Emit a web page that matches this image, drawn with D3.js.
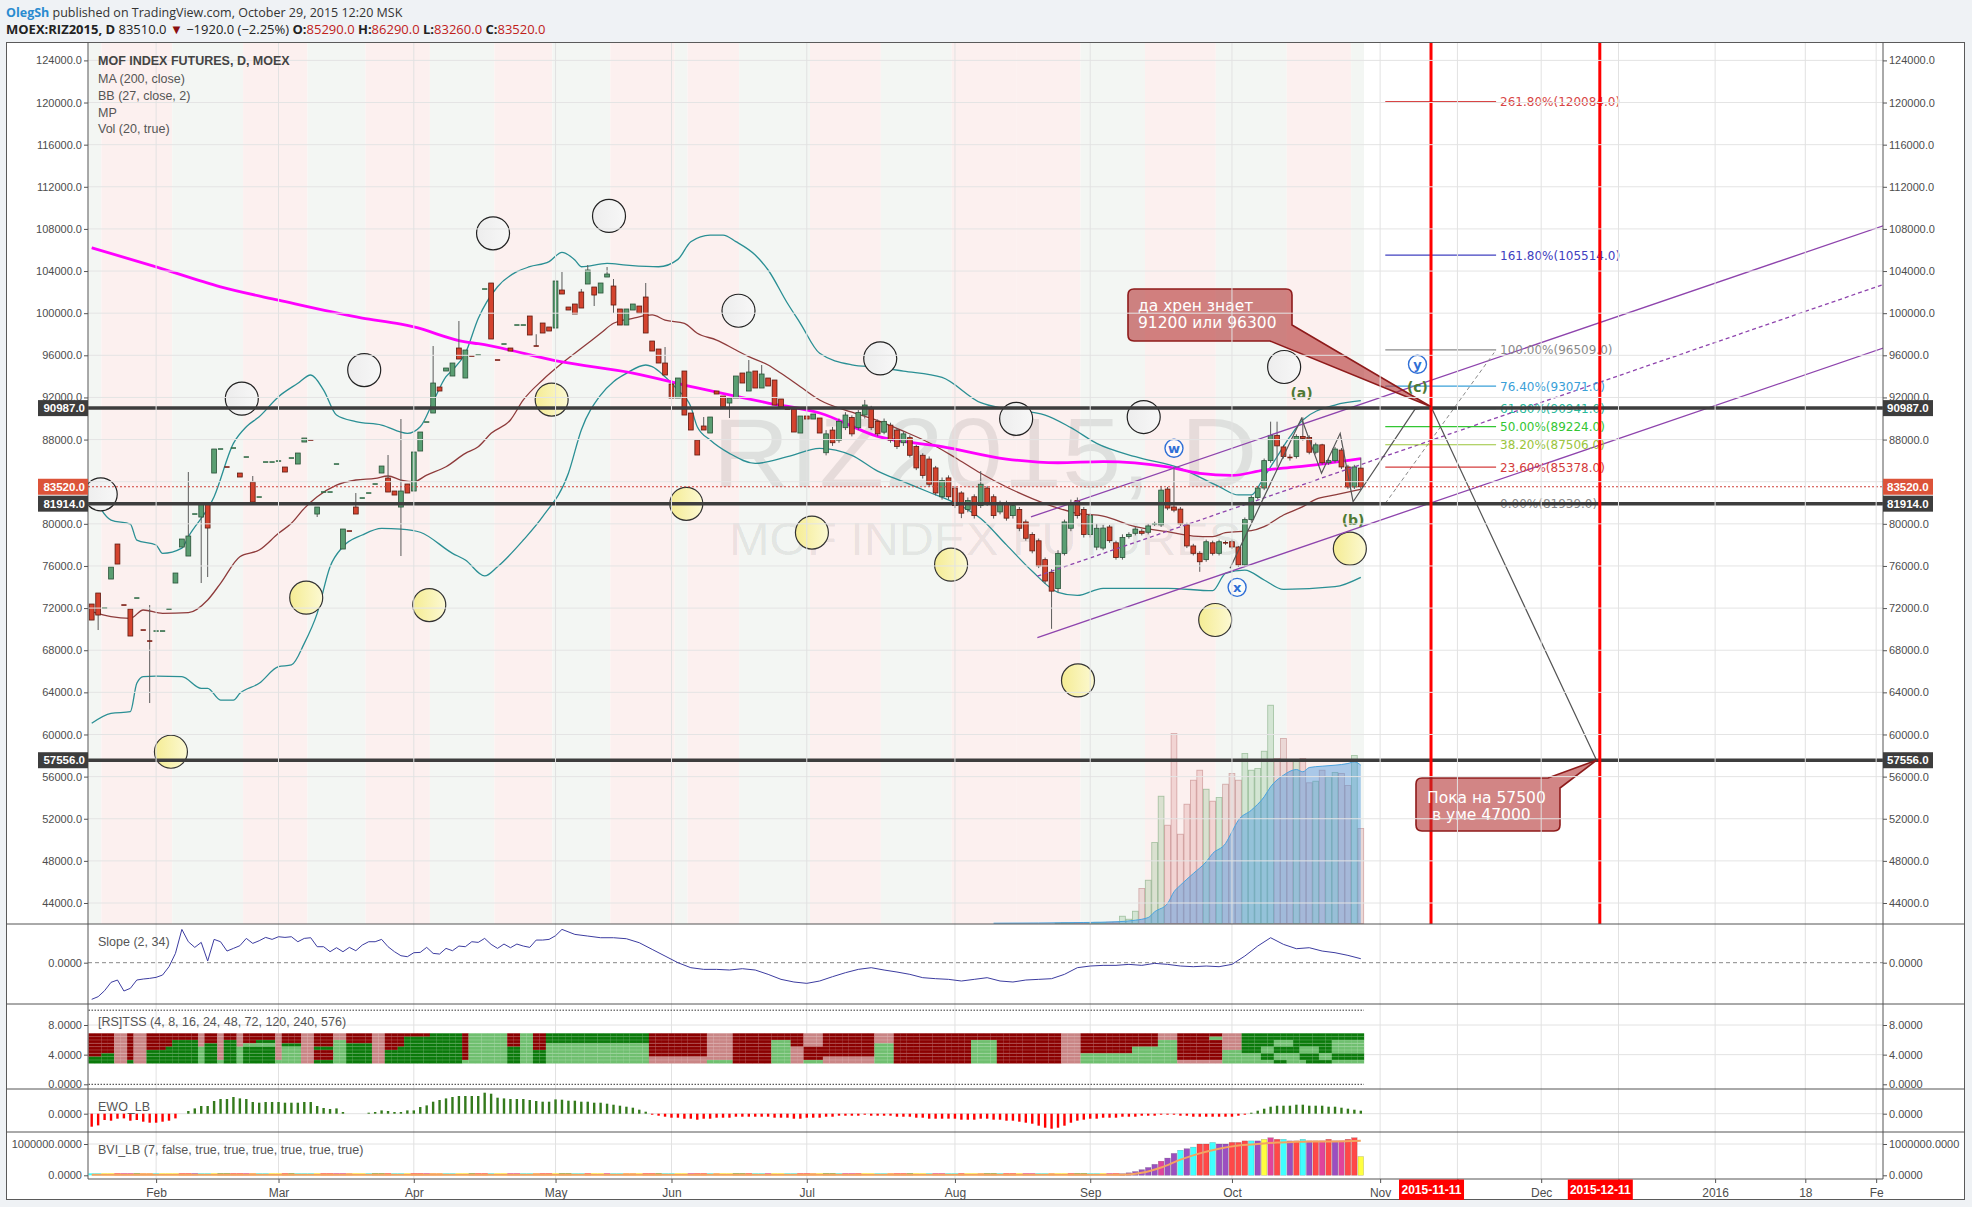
<!DOCTYPE html>
<html><head><meta charset="utf-8"><title>RIZ2015</title>
<script src="https://cdn.jsdelivr.net/npm/d3@7/dist/d3.min.js"></script>
<style>
html,body{margin:0;padding:0;background:#eff2f5;}
svg{display:block;}
.ax text{font-family:"Liberation Sans",Arial,sans-serif;font-size:11px;fill:#4d4d4d;}
.ax line{stroke:#555;}
.ax path{display:none;}
.tx text{font-family:"Liberation Sans",Arial,sans-serif;font-size:12px;fill:#4d4d4d;}
</style></head><body>
<svg id="chart" width="1972" height="1207"></svg>
<script>
// ---------------- DATA ----------------
const O=[
72385,73430,72005,74759,78082,72290,71910,72955,69917,68872,
69822,69822,71910,74380,77797,76943,80931,80646,81880,84823,
87103,85394,87198,84823,86343,83969,82545,85868,85868,85963,
85394,86248,85678,87767,87957,80931,83020,83020,85678,77608,
79316,81595,82450,82925,83780,84823,84349,83115,81595,83780,
83115,86913,89666,90521,92990,94509,94034,96692,93844,95933,
96028,102294,102864,95553,97072,96692,98876,98876,99731,96882,
99066,98687,98592,102199,100585,100870,102009,102769,102484,101914,
103433,102579,100396,98876,100300,100680,101535,97357,96597,95268,
93274,91945,94509,90521,87957,89287,88622,92610,92135,91470,
91945,94319,92610,94509,92895,93844,93654,91850,90901,90901,
88622,90236,89951,90046,86750,88900,87940,89130,90090,89130,
90330,90930,89730,88700,89370,88900,87700,88180,87340,86510,
86150,85310,82570,84360,83400,82930,81370,82570,81730,83400,
82570,81130,81970,80780,81370,80180,78980,78390,76600,75400,
73850,77190,79580,82210,81370,78980,77790,77700,79700,78200,
76800,78800,79100,79300,79200,80000,79900,83300,81600,81400,
79900,77900,77200,76600,78200,77200,78200,78300,77800,76100,
80400,82500,83400,86000,88400,87300,86300,86400,88300,88200,
86800,87500,85800,86000,87000,85400,83500,85290];
const HI=[
72385,73430,72005,75898,78082,72290,71910,72955,69917,72290,
69822,69822,71910,75329,78557,84919,80931,81880,81880,87103,
87103,85394,87198,84823,86343,84539,82545,85868,85868,85963,
85394,86248,86723,88147,87957,81595,83020,83020,85678,79506,
79316,82925,82450,82925,83780,85488,86533,83115,89951,83780,
86818,88717,89666,96882,92990,94794,95268,99256,96502,95933,
96028,102294,102864,95553,97072,96692,98876,98876,99731,98000,
99066,98687,103054,103909,100585,100870,102300,104573,102484,102864,
104383,103244,100396,100396,100870,100680,102864,97357,96597,96787,
93274,93844,94509,90521,87957,90141,90141,92610,92135,91945,
94034,94319,95553,94509,95078,93844,93654,91850,90901,90901,
90236,90236,90426,90046,88900,89200,90000,90600,90300,90800,
91760,91200,89900,90000,89600,89100,88800,88400,87500,86700,
86400,85500,84400,84600,83600,83100,82500,82800,85000,83600,
82800,82200,82200,82000,81600,80400,79200,78600,76800,75700,
77500,80400,82300,82500,81600,81000,80000,79900,79900,78400,
79000,79200,79700,79500,80000,80200,83600,83500,85365,81600,
80100,78100,77400,78500,78400,78500,78400,78500,77900,80600,
82700,83600,86200,89700,89700,87500,86600,88500,90110,88400,
87700,87600,86200,87300,87200,85600,85600,86290];
const LO=[
70866,69917,72005,74759,76183,72290,69347,72955,69917,62987,
69822,69822,71910,74380,77797,76943,80931,74380,74949,84823,
87103,85394,87198,84444,86343,82070,82545,85868,85868,85963,
84919,86248,85678,87767,87957,80646,83020,83020,85678,77608,
79316,80931,82450,82925,83780,84823,83020,82735,76943,82925,
83115,86913,89666,90521,92610,94509,94034,95648,93844,95933,
96028,102294,97548,95553,97072,96407,98876,98876,97927,96882,
98117,98307,98592,101819,100300,99921,100490,102769,100680,101914,
103433,100015,98876,98876,100300,100015,98117,96407,95268,94129,
91945,91945,90331,88907,86533,88907,88622,92325,91090,90046,
91945,93370,92610,92895,92895,93085,91280,91090,90901,88717,
88622,89951,89951,88622,86500,87400,87700,88900,88300,88900,
90000,88900,88300,88500,87700,87100,87400,86300,85100,84300,
83500,82700,82300,82300,81500,80540,81100,80500,81500,81700,
80500,80900,80300,80500,79300,78400,77200,75800,74300,70030,
73500,77000,79300,80500,78700,78700,77500,77500,78200,76600,
76600,78600,78900,78900,79000,79800,79700,81300,81100,79800,
77700,77000,75445,76400,77000,77000,78000,77600,75900,76000,
80200,82300,83200,85800,85420,86200,86000,86200,87900,86600,
86600,85600,85600,85800,85200,83300,83300,83260];
const C=[
70866,71341,72005,75898,76183,72290,69347,72955,69917,68872,
69822,69822,71910,75329,78557,78842,80931,81880,79601,87103,
87103,85394,87198,84444,86343,82070,82545,85868,85868,85963,
84919,86248,86723,88147,87957,81595,83020,83020,85678,79506,
79316,80931,82450,82925,83780,85488,83020,82735,83115,82925,
86818,88717,89666,93369,92610,94794,95268,95648,96502,95933,
96028,102294,97548,95553,97072,96407,98876,98876,97927,96882,
98117,98307,103054,101819,100300,99921,100490,104098,101724,102864,
103718,100775,98876,100396,100870,100015,98117,96407,95268,94129,
91945,93844,90331,88907,86533,88907,90141,92325,91090,91945,
94034,93370,94414,92895,94224,93085,91280,91090,90901,88717,
90236,89951,90426,88622,88540,87700,89730,90330,88540,90570,
91280,89130,88540,89730,87940,87340,88540,86510,85310,84600,
83760,82930,84120,82570,81730,81010,82210,80780,83760,81970,
80780,81970,80540,81730,79580,78630,77430,76000,74570,73610,
77190,80180,81970,80780,78980,80780,79580,79600,78400,76800,
78700,79000,79500,79100,79800,80000,83200,81500,81300,80000,
77900,77200,76400,78300,77200,78300,78200,77800,76100,80400,
82500,83400,86000,88400,87400,86400,86300,88300,88100,86800,
87500,85800,86000,87100,85400,83500,85400,83520];

// volume (from bar 150)
const volStart=150;
const volVals=[500,800,600,900,700,1000,1200,900,1300,1500,
7300,4300,12300,35000,43300,81000,127300,98300,190000,89300,
119300,143300,153300,134300,122300,126000,139300,150000,143300,170000,
153300,155000,172300,218300,165000,185000,163300,163300,165000,140700,
142300,153300,146700,151000,150000,138000,168000,95000];
const volMaIdx=[140,154,159,162,164,165,167,168,169,171,173,174,176,177,178,180,182,183,185,187,188,189,191,193,195,196,197];
const volMaVal=[300,1000,1700,3300,6000,11700,20000,31700,38300,50000,61700,70000,80000,91700,103300,113300,126700,136700,148300,154000,151700,156000,157300,158300,160000,161700,158300];

// Bollinger bands (27,2) read points
const bbUpIdx=[0,3,6,7,10,11,14,15,19,22,24,26,29,32,34,36,38,41,45,49,51,53,55,56,58,60,63,66,68,71,73,75,76,80,83,88,91,93,96,98,100,103,105,108,110,113,118,122,126,132,138,142,148,152,156,162,169,175,178,180,182,184,186,188,193,197];
const bbUpVal=[83050,80360,79980,78460,77990,77200,77700,78780,82570,87640,89220,90170,92070,93340,94130,92700,90330,89700,89380,88590,89220,91600,93970,94600,96190,99500,102510,103940,104410,104890,105780,105050,104410,104730,104570,104410,105110,106790,107420,107420,106790,105520,104100,100940,99040,96190,95100,94860,94500,93900,91500,90900,90330,89130,87640,86370,85270,83530,82740,82740,84470,86370,88270,89860,91280,91690];
const bbLoIdx=[0,3,6,7,8,10,14,17,18,20,22,23,26,29,31,33,35,37,39,42,45,48,51,56,58,61,63,67,70,74,76,79,81,83,86,87,89,91,93,94,96,99,103,108,113,118,122,126,130,134,138,142,146,150,153,157,167,174,176,179,182,185,193,197];
const bbLoVal=[61060,62000,62160,64860,65490,65550,65490,64380,64380,63270,63270,63910,64860,66440,66600,68650,71500,75930,77830,78940,79570,79500,79200,77200,76560,75050,75930,78460,80680,84800,88910,92230,93500,94290,95080,94920,93970,92700,91120,89220,87960,86690,85740,86370,87170,86500,85000,84000,83000,82000,80500,78000,75500,73500,73200,73880,73880,73650,75300,75610,74670,73780,74030,74920];
const bbMidIdx=[0,3,6,8,11,15,18,20,23,26,29,31,33,35,38,41,44,46,48,50,52,55,58,60,62,65,67,70,73,76,79,81,84,87,89,92,94,97,100,102,105,107,110,113,118,122,126,130,134,138,142,146,150,153,157,162,167,171,174,176,180,182,185,188,190,193,197];
const bbMidVal=[71660,71180,71030,71820,71500,71560,72770,74350,76880,77510,79100,80050,81470,82570,83680,84160,84320,84540,84160,84000,84630,85420,86690,87320,88590,89860,91760,93660,95240,96660,98090,99040,99510,99830,99350,99040,98090,97450,96500,95870,95080,94290,93020,91760,90600,89800,88800,87700,86300,84800,83500,82400,81500,81000,80740,79730,79250,78840,78780,79160,79350,79730,80840,81630,82330,82740,83280];
// MA(200)
const maIdx=[0,10,20,29,42,48,50,58,60,73,84,94,105,113,122,132,142,150,157,167,172,177,182,187,197];
const maVal=[106210,104400,102500,101230,99540,98960,98690,97270,97100,95370,94320,92900,91470,90520,88300,87340,86150,85800,85900,85400,84800,84600,85100,85400,86200];

// background session bands (bar index edges) p = pink, g = green
const bandEdge=[-0.5,1.5,12.5,23.5,33.5,42.5,52.5,62.5,71.5,80.5,90.5,92.5,100.5,111.5,122.5,133.5,143.5,153.5,163.5,174.5,185.5,195.5,197.5];
const bandType=['g','p','g','p','g','p','g','p','g','p','g','p','g','p','g','p','p','g','p','g','p','g'];

// marker circles (bar index, price)
const whiteIdx=[1.4,23.3,42.3,62.3,80.3,100.4,122.4,143.5,163.3,185.1];
const whiteVal=[82800,91880,94600,107580,109230,100230,95700,89970,90140,94890];
const yellowIdx=[12.3,33.3,52.4,71.4,92.3,111.8,133.4,153.1,174.4,195.3];
const yellowVal=[58360,72990,72290,91800,81900,79170,76120,65130,70870,77640];

// horizontal levels
const levels=[90987,81914,57556];
const lastPrice=83520;

// channel (bar index, price)
const chanUp=[[145.8,80650],[278.1,108300]];
const chanMid=[[146.8,75040],[278.1,102720]];
const chanLo=[[146.8,69200],[278.1,96690]];

// fibonacci
const fibPct=['261.80%','161.80%','100.00%','76.40%','61.80%','50.00%','38.20%','23.60%','0.00%'];
const fibVal=[120084,105514,96509,93071,90941,89224,87506,85378,81939];
const fibCol=['#d84545','#4040c0','#8a8a8a','#3aa0d8','#2ab89a','#33c633','#9ac43a','#d43c3c','#8a8a8a'];
const fibRange=[200.8,218];
const fibDiag=[[200.8,81939],[218,96509]];

// wave path
const zigIdx=[176.7,187.8,190.9,193.8,195.8,205.4,207.9,233.6];
const zigVal=[75775,90020,84800,88590,82100,90870,91119,57556];

// wave labels
const waveTxt=['w','x','y','(a)','(b)','(c)'];
const waveIdx=[168.0,177.8,205.8,187.8,195.8,205.8];
const waveVal=[87170,73970,95145,92420,80360,93020];
const waveCircled=[true,true,true,false,false,false];

// vertical event lines
const eventIdx=[207.9,234.1];
const eventLab=['2015-11-11','2015-12-11'];

// callouts
const callA=['да хрен знает','91200 или 96300'];
const callB=['Пока на 57500',' в уме 47000'];

// time axis
const tIdx=[10,29,50,72,90,111,134,155,177,200,212,225,237,252,266,277];
const tLab=['Feb','Mar','Apr','May','Jun','Jul','Aug','Sep','Oct','Nov','','Dec','','2016','18','Fe'];

// price ticks
const priceTicks=d3.range(44000,124001,4000);

// Slope (2,34)
const slopeIdx=d3.range(0,73).concat([73,75,77,79,81,83,85,87,89,91,93,95,97,99,101,103,105,107,109,111,113,115,117,119,121,123,125,127,129,131,133,135,137,139,141,143,145,147,149,151,153,155,157,159,161,163,165,167,169,171,173,175,177,179,181,183,185,187,189,191,193,195,197]);
const slopeVal=[-1.10,-1.02,-0.84,-0.59,-0.52,-0.85,-0.77,-0.52,-0.49,-0.47,-0.44,-0.37,-0.12,0.28,1.00,0.63,0.46,0.61,0.05,0.70,0.63,0.35,0.43,0.51,0.73,0.58,0.66,0.76,0.70,0.78,0.76,0.78,0.63,0.73,0.75,0.48,0.48,0.33,0.45,0.33,0.46,0.36,0.53,0.63,0.63,0.70,0.48,0.33,0.21,0.18,0.30,0.31,0.46,0.28,0.26,0.43,0.36,0.50,0.48,0.63,0.61,0.73,0.55,0.43,0.56,0.45,0.56,0.50,0.46,0.68,0.68,0.70,0.81,
1.0,0.85,0.8,0.75,0.75,0.72,0.6,0.4,0.2,0.0,-0.15,-0.2,-0.2,-0.22,-0.18,-0.22,-0.35,-0.5,-0.58,-0.62,-0.55,-0.42,-0.3,-0.2,-0.15,-0.22,-0.28,-0.35,-0.45,-0.48,-0.5,-0.55,-0.5,-0.45,-0.55,-0.58,-0.52,-0.5,-0.48,-0.35,-0.15,-0.1,-0.08,-0.08,-0.05,-0.08,-0.02,-0.05,-0.1,-0.12,-0.1,-0.12,-0.05,0.2,0.5,0.75,0.55,0.42,0.45,0.35,0.3,0.22,0.12];

// [RS]TSS rows (run-length: R dark red, r light red, G dark green, g light green)
const tssRows=[
"R4r2R1r2R8r1R2r1R2r1R5r1R3r2R3r2R4r2R7G5R1g6R2g2R2G16R9r4R11r3R8r3R26r3R12r3R7r3G19",
"R4r2R1r2R8r1R2r1R2r1R5r1R3r2R3r2R4r2R3G9R1g6R2g2R2G16R9r4R11r3R8r3R26r3R12r3R5g2r3G19",
"R4r2R1r2R4G4r1R2r1G2r1R2G3r1R3r2R3g2R4r2R3G9R1g6R2g2R2G16R9r4R6g3R2r3R8r3R12g4R10r3R12g3R7r3G5g3G6g5",
"R4r2R1r2R4G4r1G2r1G2r1g5r1G3r2R3g2G4r2R3G9R1g6R2g2R2g16R9r4R6g3R2r3R8g3R12g4R10r3R12g3R7r3G5g3G6g5",
"R4r2R1r2R3G5g1G2r1G2g1G5r1g3r2G3g2G4r2R2G10R1g6G2g2R2g16R9r4R6g3r2R3R8g3R12g4R10r3R8g7R7r3G3g2G4g3G2g5",
"R4r2R1r2G8g1G2r1G2g1G5r1g3r2R3g2G4r2G12R1g6G2g2G2g16R9r4R6g3r2R3R8g3R12g4R10r3R8g7R7g3G3g2G4g3G2g5",
"R2G2r2R1r2G8g1G2r1G2g1G5r1g3r2R3g2G4r2G12R1g6G2g2G2g16R9r4R6g3r2R3R8g3R12g4R10r3g8g7R7g3g3G2g4G3g2G5",
"G4r2R1r2G8g1G2r1G2g1G5r1g3r2R3g2G4r2G12R1g6G2g2G2g16r9r4R6g3r2R3r8g3R12g4R10r3g8g7R7g3g3G2g4G3g2G5",
"G4r2G1r2G8g1G2g1G2g1G5g1g3r2G3g2G4r2G12g1g6G2g2G2g16r9g4R6g3r2g3r8g3R12g4R10r3g8g7r7g3g5G2g3G4g5"];

// EWO_LB histogram (px units)
const ewoVal=[-13,-11.7,-6.3,-7,-5,-4.7,-7,-6.3,-8,-9,-9,-8,-7,-4.7,0,
2.7,5.3,7.7,7.7,12.7,14.7,14.7,16.7,15.3,14.7,11.7,11,11.7,11.7,11.7,11,11,11,11.7,11.7,7.7,5.7,4.7,5.3,1.7,
0,0,0,
1,1.7,3.3,2.7,1.7,1.7,3.3,3.3,6.7,8.3,12,13.7,15.3,16.7,17.7,17.7,17.7,17.7,21,20,16,15.3,14.7,14.7,14.7,13.7,12.7,12,12,14.3,
14,13,13,12,12,11,11,10,9,8,7,6,4,2,-1,-2,-3,-4,-4,-5,-5,-6,-5,-5,-4,-4,-4,-3,-3,-3,-3,-3,-3,-4,-4,-4,-5,-5,-4,-4,-4,
-3,-3,-2,-2,-2,-2,-1,-2,-2,-2,-2,-3,-3,-3,-4,-4,-5,-5,-5,-5,-5,-6,-6,-6,-5,-5,-6,-6,-7,-7,-8,-9,-10,-12,-14,-15,
-14,-12,-9,-7,-6,-5,-5,-4,-4,-4,-3,-3,-3,-2,-2,-2,-1,-1,-1,-2,-2,-3,-3,-3,-3,-3,-3,-3,-2,-1,1,3,5,7,8,8,8,9,9,8,8,8,7,7,6,5,4,3];

// BVI_LB (values in millions)
const bviBaseCols="c2y2R1m2g1o2c1y3R2p1c2y1g2R2m1o1c2y2R1g1c3y1R2m2o1y2c1g2R1c2y1R2m1o2c2y2g1R2c1y2m2c2o1R2y1g2c2R1y2m1c2o2y1R2g1c2y2m1R2c1o1y2g2R1c2m1y2c2R2o1y1g2c1m2R1y2c2o1R2g1y2c1m2c2R1y2o1g2c1R2y1m2c2o1y2R1g2c2y1m1R2c1o2y1";
const bviStart=160;
const bviVals=[0.05,0.08,0.12,0.18,0.25,0.35,0.45,0.55,0.7,0.8,0.85,0.9,1.0,1.0,1.05,1.0,1.0,1.05,1.05,1.1,1.1,1.1,1.15,1.2,1.15,1.15,1.1,1.1,1.15,1.1,1.1,1.1,1.15,1.1,1.1,1.15,1.2,0.6];
const bviCols="ppppppmppcpcRRcppRRRcpymRcpRcpRmRpmRRy";
const bviAvgIdx=[0,160,163,166,169,172,175,178,181,184,187,190,193,197];
const bviAvgVal=[0.02,0.02,0.08,0.25,0.5,0.7,0.85,0.95,1.0,1.05,1.07,1.08,1.08,1.1];

// ---------------- LAYOUT ----------------
const N=O.length;
const AX0=88, AX1=1883;
const P={main:[43,924],slope:[924,1004],tss:[1004,1089],ewo:[1089,1132],bvi:[1132,1179]};
const x=d3.scaleLinear().domain([0,197]).range([91.7,1360.8]);
const yM=d3.scaleLinear().domain([44000,124000]).range([903,60.4]);
const ySl=d3.scaleLinear().domain([-1,1]).range([996,929.4]);
const yTs=d3.scaleLinear().domain([0,8]).range([1084.3,1025]);
const yEw=d3.scaleLinear().domain([-20,20]).range([1133.7,1093.7]);
const yBv=d3.scaleLinear().domain([0,1]).range([1175.3,1144]);
const yVol=d3.scaleLinear().domain([0,250000]).range([923.5,673.5]);

function rle(s,n){const out=[];s.replace(/([A-Za-z])(\d+)/g,(m,c,k)=>{for(let j=0;j<+k;j++)out.push(c);});while(out.length<n)out.push(out[out.length-1]);return out.slice(0,n);}

const svg=d3.select('#chart');
const defs=svg.append('defs');
function clip(id,y0,y1){defs.append('clipPath').attr('id',id).append('rect').attr('x',AX0).attr('y',y0).attr('width',AX1-AX0).attr('height',y1-y0);}
clip('cMain',P.main[0],P.main[1]);clip('cSlope',P.slope[0],P.slope[1]);clip('cTss',P.tss[0],P.tss[1]);clip('cEwo',P.ewo[0],P.ewo[1]);clip('cBvi',P.bvi[0],P.bvi[1]);
const yg=defs.append('linearGradient').attr('id','yel').attr('x1',0).attr('x2',1).attr('y1',0).attr('y2',0);
yg.append('stop').attr('offset','0%').attr('stop-color','#f5ec94');yg.append('stop').attr('offset','100%').attr('stop-color','#fcf9d2');
const wg=defs.append('linearGradient').attr('id','wht').attr('x1',0).attr('x2',1).attr('y1',0).attr('y2',0);
wg.append('stop').attr('offset','0%').attr('stop-color','#ededed');wg.append('stop').attr('offset','100%').attr('stop-color','#f7f7f7');

// page / frame
svg.append('rect').attr('x',0).attr('y',0).attr('width',1972).attr('height',1207).attr('fill','#eff2f5');
svg.append('rect').attr('x',6.5).attr('y',42.5).attr('width',1958).attr('height',1157).attr('fill','#fff').attr('stroke','#5a5a5a');

// header
const h1=svg.append('text').attr('x',6).attr('y',17).style('font-family','"Open Sans","Liberation Sans",sans-serif').style('font-size','12.5px').attr('fill','#333');
h1.append('tspan').attr('fill','#2a8bd0').attr('font-weight','bold').text('OlegSh');
h1.append('tspan').text(' published on TradingView.com, October 29, 2015 12:20 MSK');
const h2=svg.append('text').attr('x',6).attr('y',34).style('font-family','"Open Sans","Liberation Sans",sans-serif').style('font-size','13px').attr('fill','#222');
h2.append('tspan').attr('font-weight','bold').text('MOEX:RIZ2015, D');
h2.append('tspan').text('  83510.0 ');
h2.append('tspan').attr('fill','#8b1010').text('▼');
h2.append('tspan').text(' −1920.0 (−2.25%)  ');
[['O:','85290.0'],['H:','86290.0'],['L:','83260.0'],['C:','83520.0']].forEach(([k,v])=>{h2.append('tspan').attr('font-weight','bold').text(k);h2.append('tspan').attr('fill','#c0201a').text(v+'  ');});

// ---------- MAIN PANE ----------
const gm=svg.append('g').attr('clip-path','url(#cMain)');
const bands=bandType.map((t,k)=>({t,a:bandEdge[k],b:bandEdge[k+1]}));
gm.selectAll('rect.band').data(bands).join('rect').attr('x',d=>x(d.a)).attr('width',d=>x(d.b)-x(d.a))
  .attr('y',P.main[0]).attr('height',P.main[1]-P.main[0]).attr('fill',d=>d.t==='p'?'#fcf0ef':'#f3f6f3');
const gridG=svg.append('g');
gridG.selectAll('line.hg').data(priceTicks).join('line').attr('x1',AX0).attr('x2',AX1).attr('y1',d=>yM(d)).attr('y2',d=>yM(d)).attr('stroke','#e4e4e4');
gridG.selectAll('line.vg').data(tIdx).join('line').attr('x1',d=>x(d)).attr('x2',d=>x(d)).attr('y1',P.main[0]).attr('y2',P.bvi[1]).attr('stroke','#e2e2e2');
gm.append('text').attr('x',985).attr('y',487).attr('text-anchor','middle').attr('textLength',545).attr('lengthAdjust','spacingAndGlyphs')
  .style('font-family','"Liberation Sans",Arial,sans-serif').style('font-size','98px').attr('fill','rgba(0,0,0,0.085)').text('RIZ2015, D');
gm.append('text').attr('x',985).attr('y',555).attr('text-anchor','middle').attr('textLength',512).attr('lengthAdjust','spacingAndGlyphs')
  .style('font-family','"Liberation Sans",Arial,sans-serif').style('font-size','46px').attr('fill','rgba(0,0,0,0.085)').text('MOF INDEX FUTURES');
const vols=volVals.map((v,k)=>{const i=volStart+k;const up=C[i]>O[i]||(C[i]===O[i]&&i>0&&C[i]>=C[i-1]);return {i,v,up};});
gm.selectAll('rect.vol').data(vols).join('rect').attr('x',d=>x(d.i)-2.9).attr('width',5.8)
  .attr('y',d=>yVol(d.v)).attr('height',d=>yVol(0)-yVol(d.v))
  .attr('fill',d=>d.up?'rgba(130,185,130,0.28)':'rgba(215,140,140,0.28)')
  .attr('stroke',d=>d.up?'rgba(80,140,80,0.45)':'rgba(170,90,90,0.45)').attr('stroke-width',0.8);
const vma=volMaIdx.map((i,k)=>[i,volMaVal[k]]);
gm.append('path').datum(vma).attr('d',d3.area().x(d=>x(d[0])).y0(yVol(0)).y1(d=>yVol(d[1])).curve(d3.curveMonotoneX))
  .attr('fill','rgba(70,150,225,0.45)');
gm.append('path').datum(vma).attr('d',d3.line().x(d=>x(d[0])).y(d=>yVol(d[1])).curve(d3.curveMonotoneX))
  .attr('fill','none').attr('stroke','#4aa3df').attr('stroke-width',1);
const ln=d3.line().x(d=>x(d[0])).y(d=>yM(d[1])).curve(d3.curveMonotoneX);
[[bbUpIdx,bbUpVal,'#2a8f94'],[bbLoIdx,bbLoVal,'#2a8f94'],[bbMidIdx,bbMidVal,'#8e3b3b']].forEach(([ix,vv,col])=>{
  gm.append('path').datum(ix.map((i,k)=>[i,vv[k]])).attr('d',ln).attr('fill','none').attr('stroke',col).attr('stroke-width',1.3);});
gm.append('path').datum(maIdx.map((i,k)=>[i,maVal[k]])).attr('d',ln).attr('fill','none').attr('stroke','#ff00ff').attr('stroke-width',2.8);
const bars=d3.range(N).map(i=>({i,o:O[i],h:HI[i],l:LO[i],c:C[i],up:C[i]>O[i]||(C[i]===O[i]&&(i===0||C[i]>=C[i-1]))}));
gm.selectAll('line.wick').data(bars.filter(d=>d.h>d.l)).join('line').attr('x1',d=>x(d.i)).attr('x2',d=>x(d.i))
  .attr('y1',d=>yM(d.h)).attr('y2',d=>yM(d.l)).attr('stroke','#5b5b5b').attr('stroke-width',1);
gm.selectAll('rect.body').data(bars.filter(d=>d.o!==d.c)).join('rect').attr('x',d=>x(d.i)-2.4).attr('width',4.8)
  .attr('y',d=>yM(Math.max(d.o,d.c))).attr('height',d=>Math.max(1.5,Math.abs(yM(d.o)-yM(d.c))))
  .attr('fill',d=>d.up?'#5a9e72':'#d4432e').attr('stroke',d=>d.up?'#2a5238':'#5e1a10').attr('stroke-width',0.8);
gm.selectAll('line.dash').data(bars.filter(d=>d.o===d.c)).join('line').attr('x1',d=>x(d.i)-2.6).attr('x2',d=>x(d.i)+2.6)
  .attr('y1',d=>yM(d.c)).attr('y2',d=>yM(d.c)).attr('stroke',d=>d.up?'#2f6b46':'#7a1a10').attr('stroke-width',1.6);
gm.selectAll('circle.w').data(whiteIdx.map((i,k)=>[i,whiteVal[k]])).join('circle').attr('cx',d=>x(d[0])).attr('cy',d=>yM(d[1])).attr('r',16.5)
  .attr('fill','url(#wht)').attr('stroke','#222').attr('stroke-width',1.2);
gm.selectAll('circle.y').data(yellowIdx.map((i,k)=>[i,yellowVal[k]])).join('circle').attr('cx',d=>x(d[0])).attr('cy',d=>yM(d[1])).attr('r',16.5)
  .attr('fill','url(#yel)').attr('stroke','#333').attr('stroke-width',1.2);
[[chanUp,null],[chanMid,'4,3'],[chanLo,null]].forEach(([pts,dash])=>{
  gm.append('line').attr('x1',x(pts[0][0])).attr('y1',yM(pts[0][1])).attr('x2',x(pts[1][0])).attr('y2',yM(pts[1][1]))
   .attr('stroke','#8e44ad').attr('stroke-width',1.3).attr('stroke-dasharray',dash);});
gm.append('line').attr('x1',x(fibDiag[0][0])).attr('y1',yM(fibDiag[0][1])).attr('x2',x(fibDiag[1][0])).attr('y2',yM(fibDiag[1][1]))
  .attr('stroke','#8a8a8a').attr('stroke-width',1).attr('stroke-dasharray','4,3');
fibVal.forEach((v,k)=>{
  gm.append('line').attr('x1',x(fibRange[0])).attr('x2',x(fibRange[1])).attr('y1',yM(v)).attr('y2',yM(v)).attr('stroke',fibCol[k]).attr('stroke-width',1.2);
  gm.append('text').attr('x',x(fibRange[1])+4).attr('y',yM(v)+4.5).style('font-family','"DejaVu Sans",Verdana,sans-serif').style('font-size','12px')
   .attr('fill',fibCol[k]).text(fibPct[k]+'('+v.toFixed(1)+')');});
gm.append('path').datum(zigIdx.map((i,k)=>[i,zigVal[k]])).attr('d',d3.line().x(d=>x(d[0])).y(d=>yM(d[1])))
  .attr('fill','none').attr('stroke','#555').attr('stroke-width',1.2);
levels.forEach(v=>gm.append('line').attr('x1',AX0).attr('x2',AX1).attr('y1',yM(v)).attr('y2',yM(v)).attr('stroke','#3d3d3d').attr('stroke-width',3.5));
gm.append('line').attr('x1',AX0).attr('x2',AX1).attr('y1',yM(lastPrice)).attr('y2',yM(lastPrice)).attr('stroke','#d0413a').attr('stroke-width',1).attr('stroke-dasharray','2,2');
eventIdx.forEach(i=>gm.append('line').attr('x1',x(i)).attr('x2',x(i)).attr('y1',P.main[0]).attr('y2',P.main[1]).attr('stroke','#ff0000').attr('stroke-width',3));
function callout(box,tip,wedge,lines,tx,ty){
  const [x0,y0,x1,y1]=box,r=6;let d;
  if(wedge==='br'){
    d=`M${x0+r},${y0}L${x1-r},${y0}Q${x1},${y0} ${x1},${y0+r}L${x1},${y1-16}L${tip[0]},${tip[1]}L${x1-22},${y1}L${x0+r},${y1}Q${x0},${y1} ${x0},${y1-r}L${x0},${y0+r}Q${x0},${y0} ${x0+r},${y0}Z`;
  }else{
    d=`M${x0+r},${y0}L${x1-12},${y0}L${tip[0]},${tip[1]}L${x1},${y0+10}L${x1},${y1-r}Q${x1},${y1} ${x1-r},${y1}L${x0+r},${y1}Q${x0},${y1} ${x0},${y1-r}L${x0},${y0+r}Q${x0},${y0} ${x0+r},${y0}Z`;
  }
  gm.append('path').attr('d',d).attr('fill','rgba(178,45,45,0.58)').attr('stroke','#8e1b1b').attr('stroke-width',1.6);
  lines.forEach((t,k)=>gm.append('text').attr('x',tx).attr('y',ty+k*17).style('font-family','"DejaVu Sans",Verdana,sans-serif').style('font-size','15.5px')
    .attr('fill','#fff').attr('xml:space','preserve').style('white-space','pre').text(t));
}
callout([1128,289,1292,341],[x(zigIdx[6]),yM(zigVal[6])],'br',callA,1138,311);
callout([1416,778,1560,831],[x(zigIdx[7]),yM(zigVal[7])],'tr',callB,1427,803);
waveTxt.forEach((t,k)=>{
  const cx=x(waveIdx[k]),cy=yM(waveVal[k]);
  if(waveCircled[k]){
    gm.append('circle').attr('cx',cx).attr('cy',cy).attr('r',9).attr('fill','rgba(255,255,255,0.6)').attr('stroke','#2f6fd6').attr('stroke-width',1.4);
    gm.append('text').attr('x',cx).attr('y',cy+4.5).attr('text-anchor','middle').style('font-family','"DejaVu Sans",sans-serif').style('font-size','13px').attr('font-weight','bold').attr('fill','#2f6fd6').text(t);
  }else{
    gm.append('text').attr('x',cx).attr('y',cy+5).attr('text-anchor','middle').style('font-family','"DejaVu Sans",sans-serif').style('font-size','14px').attr('font-weight','bold').attr('fill','#4e7a34').text(t);
  }
});
const leg=[['MOF INDEX FUTURES, D, MOEX',true],['MA (200, close)',false],['BB (27, close, 2)',false],['MP',false],['Vol (20, true)',false]];
const legY=[65,83,100,117,133];
leg.forEach(([t,b],k)=>svg.append('text').attr('x',98).attr('y',legY[k]).style('font-family','"Liberation Sans",Arial,sans-serif').style('font-size','12.5px')
  .attr('font-weight',b?'bold':'normal').attr('fill',b?'#444':'#555').text(t));

// ---------- SLOPE ----------
const gs=svg.append('g').attr('clip-path','url(#cSlope)');
gs.append('line').attr('x1',AX0).attr('x2',AX1).attr('y1',ySl(0)).attr('y2',ySl(0)).attr('stroke','#888').attr('stroke-dasharray','4,3');
gs.append('path').datum(slopeIdx.map((i,k)=>[i,slopeVal[k]])).attr('d',d3.line().x(d=>x(d[0])).y(d=>ySl(d[1])))
  .attr('fill','none').attr('stroke','#3c3ca0').attr('stroke-width',1);
svg.append('text').attr('x',98).attr('y',946).style('font-family','"Liberation Sans",Arial,sans-serif').style('font-size','12.5px').attr('fill','#555').text('Slope (2, 34)');

// ---------- TSS ----------
const gt=svg.append('g').attr('clip-path','url(#cTss)');
[8,4].forEach(v=>gt.append('line').attr('x1',AX0).attr('x2',AX1).attr('y1',yTs(v)).attr('y2',yTs(v)).attr('stroke','#e2e2e2'));
const tssCol={R:'#8b0000',r:'#c98585',G:'#0a7a0a',g:'#6fbf6f'};
const rowTop=1033.3,rowH=30/9;
tssRows.forEach((s,r)=>{
  const arr=rle(s,N);
  gt.selectAll(null).data(arr.map((c,i)=>({c,i}))).join('rect').attr('x',d=>x(d.i)-3.25).attr('width',6.6)
    .attr('y',rowTop+r*rowH).attr('height',rowH+0.2).attr('fill',d=>tssCol[d.c]);
  if(r>0)gt.append('line').attr('x1',x(0)-3.2).attr('x2',x(197)+3.2).attr('y1',rowTop+r*rowH).attr('y2',rowTop+r*rowH).attr('stroke','rgba(255,255,255,0.35)').attr('stroke-width',0.6);
});
[10,0].forEach(v=>gt.append('line').attr('x1',x(0)-3.2).attr('x2',x(197)+3.2).attr('y1',yTs(v)).attr('y2',yTs(v)).attr('stroke','#333').attr('stroke-dasharray','1.5,1.5'));
svg.append('text').attr('x',98).attr('y',1026).style('font-family','"Liberation Sans",Arial,sans-serif').style('font-size','12.5px').attr('fill','#555').text('[RS]TSS (4, 8, 16, 24, 48, 72, 120, 240, 576)');

// ---------- EWO ----------
const ge=svg.append('g').attr('clip-path','url(#cEwo)');
ge.append('line').attr('x1',AX0).attr('x2',AX1).attr('y1',yEw(0)).attr('y2',yEw(0)).attr('stroke','#e2e2e2');
ge.selectAll('rect').data(ewoVal.map((v,i)=>({v,i})).filter(d=>d.v!==0)).join('rect').attr('x',d=>x(d.i)-1.2).attr('width',2.4)
  .attr('y',d=>yEw(Math.max(0,d.v))).attr('height',d=>Math.abs(yEw(d.v)-yEw(0))).attr('fill',d=>d.v>0?'#347a1c':'#ff0000');
svg.append('text').attr('x',98).attr('y',1111).style('font-family','"Liberation Sans",Arial,sans-serif').style('font-size','12.5px').attr('fill','#555').text('EWO_LB');

// ---------- BVI ----------
const gb=svg.append('g').attr('clip-path','url(#cBvi)');
gb.append('line').attr('x1',AX0).attr('x2',AX1).attr('y1',yBv(1)).attr('y2',yBv(1)).attr('stroke','#e2e2e2');
const bviMap={p:'#9b4fc0',m:'#e0449c',R:'#ff4848',c:'#40ffff',y:'#ffff40',o:'#ff9a3c',g:'#7a9a2a'};
const baseCols=rle(bviBaseCols,bviStart);
gb.selectAll('rect.bb').data(baseCols.map((c,i)=>({c,i}))).join('rect').attr('x',d=>x(d.i)-3.2).attr('width',6.4)
  .attr('y',yBv(0)-2).attr('height',2).attr('fill',d=>bviMap[d.c]);
gb.selectAll('rect.bv').data(bviVals.map((v,k)=>({v,i:bviStart+k,c:bviCols[k]}))).join('rect').attr('x',d=>x(d.i)-2.8).attr('width',5.6)
  .attr('y',d=>yBv(d.v)).attr('height',d=>yBv(0)-yBv(d.v)).attr('fill',d=>bviMap[d.c]).attr('stroke','rgba(0,0,0,0.25)').attr('stroke-width',0.5);
gb.append('path').datum(bviAvgIdx.map((i,k)=>[i,bviAvgVal[k]])).attr('d',d3.line().x(d=>x(d[0])).y(d=>yBv(d[1])).curve(d3.curveMonotoneX))
  .attr('fill','none').attr('stroke','#f4a460').attr('stroke-width',2);
svg.append('text').attr('x',98).attr('y',1154).style('font-family','"Liberation Sans",Arial,sans-serif').style('font-size','12.5px').attr('fill','#555').text('BVI_LB (7, false, true, true, true, true, true, true)');

// ---------- AXES ----------
const axG=svg.append('g');
[P.slope[0],P.tss[0],P.ewo[0],P.bvi[0]].forEach(y=>axG.append('line').attr('x1',6.5).attr('x2',1964.5).attr('y1',y).attr('y2',y).attr('stroke','#555'));
axG.append('line').attr('x1',AX0).attr('x2',AX0).attr('y1',42.5).attr('y2',P.bvi[1]).attr('stroke','#555');
axG.append('line').attr('x1',AX1).attr('x2',AX1).attr('y1',42.5).attr('y2',P.bvi[1]).attr('stroke','#555');
axG.append('line').attr('x1',AX0).attr('x2',AX1).attr('y1',P.bvi[1]).attr('y2',P.bvi[1]).attr('stroke','#555');
const fmt1=d=>d.toFixed(1), fmt4=d=>d.toFixed(4);
const boxVals=levels.concat([lastPrice]);
function yAxes(scale,ticks,fmt,isMain){
  [[AX0,d3.axisLeft],[AX1,d3.axisRight]].forEach(([ax,fn])=>{
    const g=axG.append('g').attr('class','ax').attr('transform',`translate(${ax},0)`).call(fn(scale).tickValues(ticks).tickFormat(fmt).tickSize(4).tickPadding(2));
    if(isMain)g.selectAll('.tick').filter(d=>boxVals.some(b=>Math.abs(yM(b)-yM(d))<9)).select('text').remove();
  });
}
yAxes(yM,priceTicks,fmt1,true);
yAxes(ySl,[0],fmt4);
yAxes(yTs,[8,4,0],fmt4);
yAxes(yEw,[0],fmt4);
yAxes(yBv,[1,0],d=>(d*1e6).toFixed(4));
function pbox(v,fill){
  const y=yM(v);
  axG.append('rect').attr('x',AX1).attr('y',y-8).attr('width',50).attr('height',16).attr('fill',fill);
  axG.append('text').attr('x',AX1+4).attr('y',y+4).style('font-family','"Liberation Sans",Arial,sans-serif').style('font-size','11.5px').attr('font-weight','bold').attr('fill','#fff').text(v.toFixed(1));
  axG.append('rect').attr('x',AX0-50).attr('y',y-8).attr('width',50).attr('height',16).attr('fill',fill);
  axG.append('text').attr('x',AX0-3).attr('y',y+4).attr('text-anchor','end').style('font-family','"Liberation Sans",Arial,sans-serif').style('font-size','11.5px').attr('font-weight','bold').attr('fill','#fff').text(v.toFixed(1));
}
levels.forEach(v=>pbox(v,'#3d3d3d'));
pbox(lastPrice,'#dc5339');
const tg=axG.append('g').attr('class','tx').attr('transform',`translate(0,${P.bvi[1]})`).call(d3.axisBottom(x).tickValues(tIdx).tickFormat((d,i)=>tLab[i]).tickSize(4).tickPadding(5));
tg.select('.domain').remove();tg.selectAll('line').attr('stroke','#555');
eventIdx.forEach((i,k)=>{
  const cx=x(i);
  axG.append('rect').attr('x',cx-32).attr('y',P.bvi[1]+0.5).attr('width',65).attr('height',20.5).attr('fill','#ff0000');
  axG.append('text').attr('x',cx+0.5).attr('y',P.bvi[1]+15).attr('text-anchor','middle').style('font-family','"Liberation Sans",Arial,sans-serif').style('font-size','12px').attr('font-weight','bold').attr('fill','#fff').text(eventLab[k]);
});
</script></body></html>
